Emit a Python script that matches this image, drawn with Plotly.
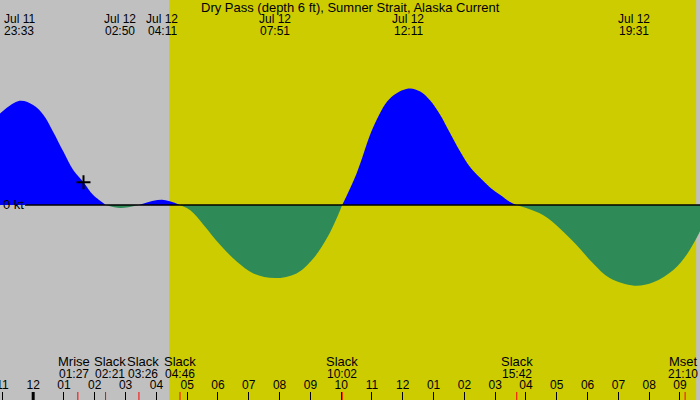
import plotly.graph_objects as go

# ---------------- data ----------------
day0 = "2024-07-11 "
day1 = "2024-07-12 "

curve_times = [day0 + "22:55", day0 + "23:33",
               day1 + "00:00", day1 + "00:20", day1 + "00:39", day1 + "00:59", day1 + "01:18",
               day1 + "01:38", day1 + "01:57", day1 + "02:17", day1 + "02:21", day1 + "02:50",
               day1 + "03:26", day1 + "04:11", day1 + "04:46", day1 + "05:06", day1 + "05:32",
               day1 + "06:04", day1 + "06:37", day1 + "07:09", day1 + "07:51", day1 + "08:33",
               day1 + "09:06", day1 + "09:32", day1 + "09:51", day1 + "10:02", day1 + "10:30",
               day1 + "11:03", day1 + "11:35", day1 + "12:11", day1 + "12:34", day1 + "12:53",
               day1 + "13:13", day1 + "13:32", day1 + "13:52", day1 + "14:11", day1 + "14:31",
               day1 + "14:50", day1 + "15:10", day1 + "15:29", day1 + "15:42", day1 + "16:33",
               day1 + "17:06", day1 + "17:38", day1 + "18:11", day1 + "18:43", day1 + "19:31",
               day1 + "20:08", day1 + "20:47", day1 + "21:13", day1 + "21:32", day1 + "21:39"]
curve_speeds = [1.56, 1.78,
                1.71, 1.54, 1.25, 0.91, 0.60,
                0.39, 0.17, 0.03, 0.0, -0.05,
                0.0, 0.09, 0.0, -0.09, -0.34,
                -0.68, -0.97, -1.17, -1.25, -1.17,
                -0.91, -0.57, -0.23, 0.0, 0.54,
                1.34, 1.82, 1.99, 1.94, 1.79,
                1.54, 1.23, 0.91, 0.65, 0.46,
                0.30, 0.17, 0.05, 0.0, -0.17,
                -0.40, -0.68, -1.00, -1.25, -1.38,
                -1.32, -1.11, -0.85, -0.57, -0.45]

extreme_times = [day0 + "23:33", day1 + "02:50", day1 + "04:11",
                 day1 + "07:51", day1 + "12:11", day1 + "19:31"]
extreme_dates = ["Jul 11", "Jul 12", "Jul 12", "Jul 12", "Jul 12", "Jul 12"]
extreme_clock = ["23:33", "02:50", "04:11", "07:51", "12:11", "19:31"]

event_names = ["Mrise", "Slack", "Slack", "Slack", "Slack", "Slack", "Mset"]
event_clock = ["01:27", "02:21", "03:26", "04:46", "10:02", "15:42", "21:10"]
event_times = [day1 + c for c in event_clock]
event_label_shift = [-4, 4, 4, 0, 0, 0, -2]   # label placement nudges (px)

now_time = day1 + "01:38"
now_speed = 0.39

sunrise = day1 + "04:25"
sunset = day1 + "21:32"
midnight = day1 + "00:00"

title = "Dry Pass (depth 6 ft), Sumner Strait, Alaska Current"

x_start = day0 + "22:55:20"
x_end = day1 + "21:39:00"

BLUE = "#0000ff"
GREEN = "#2e8b57"
GRAY = "#c0c0c0"
YELLOW = "#cccc00"
FONT = "Liberation Sans"

W, H = 700, 400


def py(p):
    return 1 - p / H


fig = go.Figure()

# split curve into sign segments at slack (zero) points
segments = []
cur_x, cur_y = [], []
for t, v in zip(curve_times, curve_speeds):
    cur_x.append(t)
    cur_y.append(v)
    if v == 0 and len(cur_x) > 1:
        segments.append((cur_x, cur_y))
        cur_x, cur_y = [t], [v]
if len(cur_x) > 1:
    segments.append((cur_x, cur_y))

for sx, sy in segments:
    positive = sum(sy) > 0
    col = BLUE if positive else GREEN
    fig.add_trace(go.Scatter(x=sx, y=sy, mode="lines", line=dict(shape="spline", width=0, color=col),
                             fill="tozeroy", fillcolor=col, hoverinfo="skip", showlegend=False))

fig.add_trace(go.Scatter(x=[now_time], y=[now_speed], mode="markers",
                         marker=dict(symbol="cross-thin", size=10, line=dict(width=2, color="black")),
                         showlegend=False, hoverinfo="skip"))

shapes = [
    dict(type="rect", xref="x", yref="paper", x0=x_start, x1=sunrise, y0=0, y1=1,
         fillcolor=GRAY, line=dict(width=0), layer="below"),
    dict(type="rect", xref="x", yref="paper", x0=sunrise, x1=sunset, y0=0, y1=1,
         fillcolor=YELLOW, line=dict(width=0), layer="below"),
    dict(type="rect", xref="x", yref="paper", x0=sunset, x1=x_end, y0=0, y1=1,
         fillcolor=GRAY, line=dict(width=0), layer="below"),
    dict(type="line", xref="paper", yref="y", x0=25 / W, x1=1, y0=0, y1=0,
         line=dict(color="black", width=1.5), layer="above"),
    dict(type="line", xref="x", yref="paper", x0=midnight, x1=midnight, y0=0, y1=8 / H,
         line=dict(color="black", width=3), layer="above"),
]
for t in event_times:
    shapes.append(dict(type="line", xref="x", yref="paper", x0=t, x1=t, y0=0, y1=8 / H,
                       line=dict(color="red", width=1), layer="above"))

ann = []
ann.append(dict(text=title, x=0.5, y=py(7.5), xref="paper", yref="paper", showarrow=False,
                font=dict(size=13, color="black", family=FONT), xanchor="center", yanchor="middle"))
for t, d, c in zip(extreme_times, extreme_dates, extreme_clock):
    ann.append(dict(text=d, x=t, y=py(19.5), xref="x", yref="paper", showarrow=False,
                    font=dict(size=12, color="black", family=FONT), xanchor="center", yanchor="middle"))
    ann.append(dict(text=c, x=t, y=py(31.5), xref="x", yref="paper", showarrow=False,
                    font=dict(size=12, color="black", family=FONT), xanchor="center", yanchor="middle"))
for t, n, c, s in zip(event_times, event_names, event_clock, event_label_shift):
    ann.append(dict(text=n, x=t, y=py(361.5), xref="x", yref="paper", showarrow=False, xshift=s,
                    font=dict(size=13, color="black", family=FONT), xanchor="center", yanchor="middle"))
    ann.append(dict(text=c, x=t, y=py(373.5), xref="x", yref="paper", showarrow=False, xshift=s,
                    font=dict(size=12, color="black", family=FONT), xanchor="center", yanchor="middle"))
ann.append(dict(text="0 kt", x=0, y=0, xref="paper", yref="y", showarrow=False, xshift=1, yshift=1,
                font=dict(size=13, color="black", family=FONT), xanchor="left", yanchor="middle"))

fig.update_layout(
    width=W, height=H, margin=dict(l=0, r=0, t=0, b=0, autoexpand=False),
    paper_bgcolor=GRAY, plot_bgcolor=GRAY,
    shapes=shapes, annotations=ann,
    xaxis=dict(type="date", range=[x_start, x_end], tick0=day0 + "23:00", dtick=3600000,
               tickformat="%I", ticks="inside", ticklen=8, tickcolor="black", tickwidth=1,
               ticklabelposition="inside", ticklabeloverflow="allow", automargin=False,
               showgrid=False, zeroline=False, showline=False,
               tickfont=dict(size=12, color="black", family=FONT), fixedrange=True),
    yaxis=dict(range=[-195 / 58.5, 205 / 58.5], visible=False, fixedrange=True, automargin=False),
    showlegend=False,
)

fig.write_html("out.html", config={"displayModeBar": False})
